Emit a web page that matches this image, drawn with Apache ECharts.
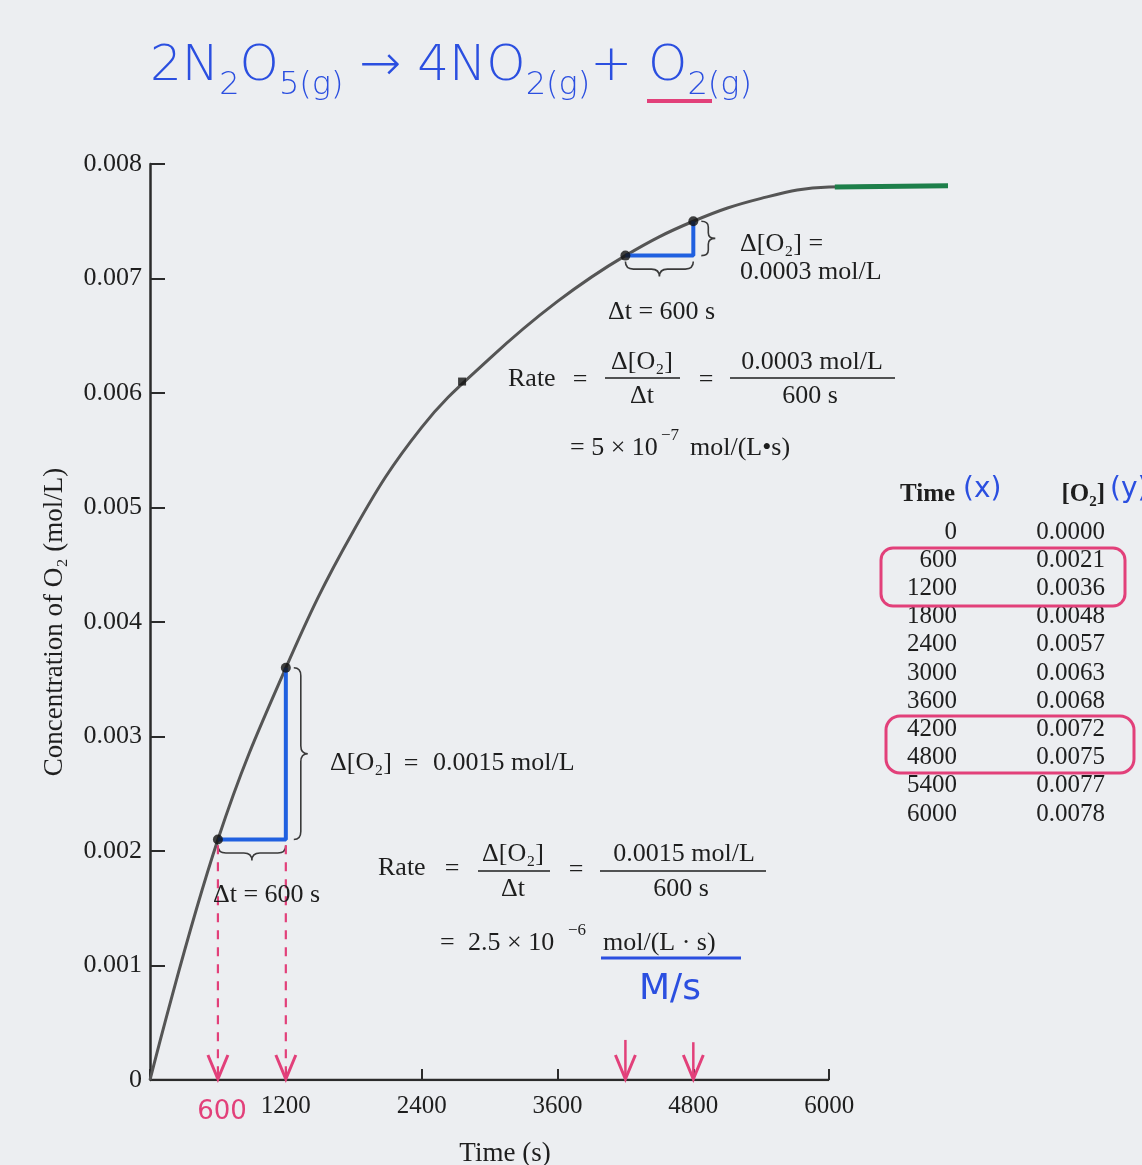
<!DOCTYPE html>
<html><head><meta charset="utf-8">
<script src="https://cdn.jsdelivr.net/npm/echarts@6/dist/echarts.min.js"></script>
<style>html,body{margin:0;padding:0;background:#eceef1;}#c{width:1142px;height:1165px;}</style>
</head><body><div id="c"></div>
<script>
// ---- data ----
const times = [0, 600, 1200, 1800, 2400, 3000, 3600, 4200, 4800, 5400, 6000];
const o2 = [0.0000, 0.0021, 0.0036, 0.0048, 0.0057, 0.0063, 0.0068, 0.0072, 0.0075, 0.0077, 0.0078];
const curveTail = [[7050, 0.00781]];
const greenSegment = [[6050, 0.00780], [7050, 0.00781]];
const midPoint = [[2757, 0.0061]];
const intervals = [[600, 1200], [4200, 4800]];
const arrowTops = [[600, 0.00205, 1], [1200, 0.00205, 1], [4200, 0.00035, 0], [4800, 0.00033, 0]];
const xAxisExtent = [[0, 0], [6000, 0]];
const xTickValues = [0, 1200, 2400, 3600, 4800, 6000];
const xTickLabels = ['', '1200', '2400', '3600', '4800', '6000'];
const yTickLabels = ['0', '0.001', '0.002', '0.003', '0.004', '0.005', '0.006', '0.007', '0.008'];

// ---- styles ----
const SERIF = '"Liberation Serif", "Times New Roman", serif';
const HAND = '"DejaVu Sans", sans-serif';
const INK = '#1e1e1e';
const AXIS = '#2b2b2b';
const BLUE_HAND = '#2b4fe0';
const RED_HAND = '#e2407a';
const TRI_BLUE = '#2060e0';
const FS = 26;

function valueAt(t) { return o2[times.indexOf(t)]; }
const curveData = times.map((t, i) => [t, o2[i]]).concat(curveTail);
const dotData = [];
intervals.forEach(([a, b]) => { dotData.push([a, valueAt(a)], [b, valueAt(b)]); });
const braceData = [];
intervals.forEach(([a, b]) => {
  braceData.push([a, valueAt(a), b, valueAt(a), 0]);
  braceData.push([b, valueAt(a), b, valueAt(b), 1]);
});

function bracePath(p1, p2, n, depth) {
  const dx = p2[0] - p1[0], dy = p2[1] - p1[1];
  const L = Math.hypot(dx, dy);
  const d = [dx / L, dy / L];
  const q = Math.min(8, L / 6), h = depth / 2;
  const P = (base, a, b) => (base[0] + d[0] * a + n[0] * b).toFixed(1) + ',' + (base[1] + d[1] * a + n[1] * b).toFixed(1);
  const m = [(p1[0] + p2[0]) / 2, (p1[1] + p2[1]) / 2];
  return 'M' + P(p1, 0, 0) + ' Q' + P(p1, 0, h) + ' ' + P(p1, q, h) +
    ' L' + P(m, -q, h) + ' Q' + P(m, 0, h) + ' ' + P(m, 0, depth) +
    ' Q' + P(m, 0, h) + ' ' + P(m, q, h) +
    ' L' + P(p2, -q, h) + ' Q' + P(p2, 0, h) + ' ' + P(p2, 0, 0);
}

const triSeries = intervals.map(([a, b]) => ({
  type: 'line', data: [[a, valueAt(a)], [b, valueAt(a)], [b, valueAt(b)]],
  symbol: 'none', lineStyle: { color: TRI_BLUE, width: 4 }, z: 3, silent: true
}));

// ---- annotation graphics ----
const G = [];
function txt(text, x, y, size, opts) {
  opts = opts || {};
  G.push({
    type: 'text', x: x, y: y, z: 10,
    style: {
      text: text, font: (opts.weight || 'normal') + ' ' + size + 'px ' + (opts.family || SERIF),
      fill: opts.color || INK, align: opts.align || 'left', verticalAlign: 'middle'
    }
  });
}
function hline(x1, x2, y, color, w) {
  G.push({ type: 'line', z: 10, shape: { x1: x1, y1: y, x2: x2, y2: y }, style: { stroke: color || INK, lineWidth: w || 1.5 } });
}

// bottom annotation
txt('Δ[O₂]', 330, 763, FS);
txt('=', 411, 764, FS, { align: 'center' });
txt('0.0015 mol/L', 433, 763, FS);
txt('Δt = 600 s', 213, 895, FS);
txt('Rate', 378, 868, FS);
txt('=', 452, 869, FS, { align: 'center' });
txt('Δ[O₂]', 513, 854, FS, { align: 'center' });
hline(478, 550, 871);
txt('Δt', 513, 889, FS, { align: 'center' });
txt('=', 576, 870, FS, { align: 'center' });
txt('0.0015 mol/L', 684, 854, FS, { align: 'center' });
hline(600, 766, 871);
txt('600 s', 681, 889, FS, { align: 'center' });
txt('=', 440, 943, FS);
txt('2.5 × 10', 468, 943, FS);
txt('−6', 568, 931, 17);
txt('mol/(L · s)', 603, 943, FS);
hline(601, 741, 958, BLUE_HAND, 3);
txt('M/s', 670, 990, 36, { family: HAND, color: BLUE_HAND, align: 'center' });

// top annotation
txt('Δ[O₂] =', 740, 244, FS);
txt('0.0003 mol/L', 740, 272, FS);
txt('Δt = 600 s', 608, 312, FS);
txt('Rate', 508, 379, FS);
txt('=', 580, 380, FS, { align: 'center' });
txt('Δ[O₂]', 642, 362, FS, { align: 'center' });
hline(605, 680, 378);
txt('Δt', 642, 396, FS, { align: 'center' });
txt('=', 706, 380, FS, { align: 'center' });
txt('0.0003 mol/L', 812, 362, FS, { align: 'center' });
hline(730, 895, 378);
txt('600 s', 810, 396, FS, { align: 'center' });
txt('= 5 × 10', 570, 448, FS);
txt('−7', 661, 436, 17);
txt('mol/(L•s)', 690, 448, FS);

// data table (from the same arrays)
txt('Time', 900, 495, 25, { weight: 'bold' });
txt('[O₂]', 1105, 495, 25, { weight: 'bold', align: 'right' });
txt('(x)', 963, 490, 28, { family: HAND, color: BLUE_HAND });
txt('(y)', 1110, 490, 28, { family: HAND, color: BLUE_HAND });
times.forEach((t, i) => {
  const y = 532 + i * 28.2;
  txt(String(t), 957, y, 25, { align: 'right' });
  txt(o2[i].toFixed(4), 1105, y, 25, { align: 'right' });
});
G.push({ type: 'rect', z: 11, shape: { x: 881, y: 548, width: 244, height: 58, r: 12 }, style: { fill: 'none', stroke: RED_HAND, lineWidth: 3 } });
G.push({ type: 'rect', z: 11, shape: { x: 886, y: 716, width: 248, height: 57, r: 14 }, style: { fill: 'none', stroke: RED_HAND, lineWidth: 3 } });

// handwritten equation
G.push({
  type: 'text', x: 150, y: 32, z: 10,
  style: {
    text: '{m|2N}{s|2}{m|O}{s|5(g)}{m| → 4NO}{s|2(g)}{m|+ O}{s|2(g)}',
    font: '200 50px ' + HAND, fill: BLUE_HAND,
    rich: {
      m: { fontSize: 50, fontFamily: HAND, fontWeight: 200, color: BLUE_HAND, lineHeight: 70, verticalAlign: 'middle' },
      s: { fontSize: 32, fontFamily: HAND, fontWeight: 200, color: BLUE_HAND, lineHeight: 70, verticalAlign: 'bottom' }
    }
  }
});
hline(647, 712, 101, RED_HAND, 4);
txt('600', 222, 1112, 26, { family: HAND, color: RED_HAND, align: 'center' });

const option = {
  backgroundColor: '#eceef1',
  animation: false,
  grid: { left: 150, right: 194, top: 164, bottom: 85, outerBoundsMode: 'none', containLabel: false },
  xAxis: {
    type: 'value', min: 0, max: 7050,
    name: 'Time (s)', nameLocation: 'middle', nameGap: 60,
    nameTextStyle: { fontFamily: SERIF, fontSize: 27, color: INK, padding: [0, 88, 0, 0] },
    axisLine: { show: false },
    axisTick: { show: true, inside: true, length: 11, customValues: xTickValues, lineStyle: { color: AXIS, width: 2 } },
    axisLabel: { margin: 14, fontFamily: SERIF, fontSize: 25, color: INK, customValues: xTickValues.slice(1),
      formatter: (v) => xTickLabels[xTickValues.indexOf(v)] || '' },
    splitLine: { show: false }
  },
  yAxis: {
    type: 'value', min: 0, max: 0.008, interval: 0.001,
    name: 'Concentration of O₂ (mol/L)', nameLocation: 'middle', nameGap: 82,
    nameTextStyle: { fontFamily: SERIF, fontSize: 27, color: INK },
    axisLine: { show: true, lineStyle: { color: AXIS, width: 2.5 } },
    axisTick: { show: true, inside: true, length: 15, lineStyle: { color: AXIS, width: 2 } },
    axisLabel: { margin: 8, fontFamily: SERIF, fontSize: 26, color: INK,
      formatter: (v) => yTickLabels[Math.round(v / 0.001)] },
    splitLine: { show: false }
  },
  series: [
    { type: 'line', data: xAxisExtent, symbol: 'none', lineStyle: { color: AXIS, width: 2.5 }, z: 1, silent: true },
    { type: 'line', data: curveData, smooth: 0.4, symbol: 'none', clip: false,
      lineStyle: { color: '#555555', width: 3 }, z: 2, silent: true },
    { type: 'line', data: greenSegment, symbol: 'none', clip: false,
      lineStyle: { color: '#1d7f4a', width: 5 }, z: 3, silent: true },
    ...triSeries,
    { type: 'scatter', data: dotData, symbolSize: 10, itemStyle: { color: '#111' }, z: 5, silent: true },
    { type: 'scatter', data: midPoint, symbol: 'rect', symbolSize: 8, itemStyle: { color: '#111' }, z: 5, silent: true },
    { type: 'custom', data: braceData, encode: { x: [0, 2], y: [1, 3] }, clip: false, z: 4, silent: true,
      renderItem: function (params, api) {
        const p1 = api.coord([api.value(0), api.value(1)]);
        const p2 = api.coord([api.value(2), api.value(3)]);
        const kind = api.value(4);
        const n = kind === 0 ? [0, 1] : [1, 0];
        const off = kind === 0 ? 6 : 8, depth = kind === 0 ? 15 : 14;
        const a = [p1[0] + n[0] * off, p1[1] + n[1] * off];
        const b = [p2[0] + n[0] * off, p2[1] + n[1] * off];
        return { type: 'path', shape: { pathData: bracePath(a, b, n, depth) },
          style: { fill: 'none', stroke: '#3a3a3a', lineWidth: 1.6 } };
      } },
    { type: 'custom', data: arrowTops, encode: { x: 0, y: 1 }, clip: false, z: 6, silent: true,
      renderItem: function (params, api) {
        const x = api.value(0);
        const top = api.coord([x, api.value(1)]);
        const bot = api.coord([x, 0]);
        const dashed = api.value(2) === 1;
        const tipY = bot[1] - 1;
        return { type: 'group', children: [
          { type: 'line', shape: { x1: top[0], y1: top[1], x2: top[0], y2: tipY },
            style: { stroke: RED_HAND, lineWidth: dashed ? 2.2 : 2.5, lineDash: dashed ? [9, 8] : null } },
          { type: 'polyline', shape: { points: [[top[0] - 10, tipY - 24], [top[0], tipY], [top[0] + 10, tipY - 24]] },
            style: { fill: 'none', stroke: RED_HAND, lineWidth: 3 } }
        ] };
      } }
  ],
  graphic: G
};
const chart = echarts.init(document.getElementById('c'));
chart.setOption(option);
</script></body></html>
